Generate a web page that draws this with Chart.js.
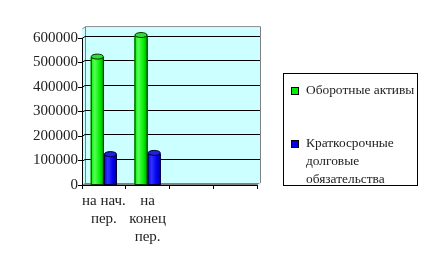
<!DOCTYPE html>
<html>
<head>
<meta charset="utf-8">
<script src="https://cdn.jsdelivr.net/npm/chart.js@4.4.1/dist/chart.umd.min.js"></script>
<style>
  body { margin: 0; background: #fff; }
  #wrap { position: relative; width: 429px; height: 265px; }
  #legend {
    position: absolute; left: 283px; top: 73px; width: 135px; height: 113px;
    border: 1px solid #000; box-sizing: border-box;
    font-family: "Liberation Serif", serif; font-size: 13.4px; color: #222;
  }
  .item { position: absolute; left: 7px; line-height: 18px; white-space: nowrap; }
  .box { position: absolute; left: 0; top: 6px; width: 6px; height: 6px; border: 1px solid #000; }
  .txt { margin-left: 15px; }
</style>
</head>
<body>
<div id="wrap">
  <canvas id="c" width="429" height="265"></canvas>
  <div id="legend"></div>
</div>
<script>
const categories = [['на нач.', 'пер.'], ['на', 'конец', 'пер.'], '', ''];
const seriesNames = ['Оборотные активы', 'Краткосрочные долговые обязательства'];
const currentAssets = [520000, 608000, null, null];
const shortTermDebt = [122000, 127000, null, null];
const yTicks = [0, 100000, 200000, 300000, 400000, 500000, 600000];

const colors = [
  { light: '#55ff55', mid: '#00ee00', dark: '#009900', top: '#33dd33' },
  { light: '#3030ff', mid: '#0000ee', dark: '#000090', top: '#2020dd' }
];

// legend in html
const legend = document.getElementById('legend');
const legendLines = [['Оборотные активы'], ['Краткосрочные', 'долговые', 'обязательства']];
const legendTops = [7, 60];
legendLines.forEach((lines, i) => {
  const d = document.createElement('div');
  d.className = 'item';
  d.style.top = legendTops[i] + 'px';
  d.innerHTML = '<span class="box" style="background:' + colors[i].mid + '"></span><div class="txt">' + lines.join('<br>') + '</div>';
  legend.appendChild(d);
});

const dx = 3, dy = -2;

const wallPlugin = {
  id: 'wall',
  beforeDraw(chart) {
    const ctx = chart.ctx;
    const a = chart.chartArea;
    const y = chart.scales.y;
    const topY = y.getPixelForValue(640000);
    ctx.save();
    // back wall
    ctx.fillStyle = '#ccffff';
    ctx.fillRect(a.left, topY, a.right - a.left + dx, a.bottom - topY);
    ctx.strokeStyle = '#808080';
    ctx.lineWidth = 1;
    ctx.beginPath();
    ctx.moveTo(a.left + dx + 0.5, a.bottom + dy);
    ctx.lineTo(a.left + dx + 0.5, topY + dy + 0.5);
    ctx.lineTo(a.right + dx + 0.5, topY + dy + 0.5);
    ctx.lineTo(a.right + dx + 0.5, a.bottom + dy);
    ctx.moveTo(a.left + 0.5, topY + 0.5);
    ctx.lineTo(a.left + dx + 0.5, topY + dy + 0.5);
    ctx.stroke();
    // gridlines
    ctx.strokeStyle = '#000';
    yTicks.slice(1).forEach(v => {
      const py = Math.round(y.getPixelForValue(v)) + 0.5;
      ctx.beginPath();
      ctx.moveTo(a.left, py);
      ctx.lineTo(a.left + dx, py + dy);
      ctx.lineTo(a.right + dx, py + dy);
      ctx.stroke();
    });
    // floor
    ctx.fillStyle = '#808080';
    ctx.beginPath();
    ctx.moveTo(a.left, a.bottom);
    ctx.lineTo(a.right, a.bottom);
    ctx.lineTo(a.right + dx, a.bottom + dy);
    ctx.lineTo(a.left + dx, a.bottom + dy);
    ctx.closePath();
    ctx.fill();
    ctx.restore();
  },
  afterDatasetsDraw(chart) {
    const ctx = chart.ctx;
    chart.data.datasets.forEach((ds, di) => {
      const meta = chart.getDatasetMeta(di);
      const c = colors[di];
      meta.data.forEach((bar, i) => {
        if (ds.data[i] == null) return;
        const w = bar.width, l = bar.x - w / 2, r = bar.x + w / 2;
        const t = bar.y, b = bar.base;
        const g = ctx.createLinearGradient(l, 0, r, 0);
        g.addColorStop(0, c.mid);
        g.addColorStop(0.3, c.light);
        g.addColorStop(0.7, c.mid);
        g.addColorStop(1, c.dark);
        ctx.save();
        ctx.fillStyle = g;
        ctx.fillRect(l, t, w, b - t);
        ctx.strokeStyle = di === 1 ? '#000033' : '#003300';
        ctx.lineWidth = 1;
        ctx.strokeRect(l + 0.5, t, w - 1, b - t);
        // cylinder top
        ctx.beginPath();
        ctx.ellipse(bar.x, t - 1, w / 2 - 0.5, 2.5, 0, 0, Math.PI * 2);
        ctx.fillStyle = c.top;
        ctx.fill();
        ctx.stroke();
        ctx.restore();
      });
    });
  }
};

new Chart(document.getElementById('c').getContext('2d'), {
  type: 'bar',
  data: {
    labels: categories,
    datasets: [
      { label: seriesNames[0], data: currentAssets, backgroundColor: colors[0].mid },
      { label: seriesNames[1], data: shortTermDebt, backgroundColor: colors[1].mid }
    ]
  },
  options: {
    responsive: false,
    animation: false,
    layout: { padding: { left: 0, top: 38, right: 172, bottom: 0 } },
    datasets: { bar: { categoryPercentage: 0.6, barPercentage: 1.0 } },
    plugins: { legend: { display: false }, tooltip: { enabled: false } },
    scales: {
      x: {
        afterFit: s => { s.height = 80; },
        grid: { drawOnChartArea: false, drawTicks: true, tickLength: 4, offset: true, color: '#000' },
        border: { color: '#000' },
        ticks: {
          color: '#222', padding: 3, maxRotation: 0, autoSkip: false,
          font: { family: 'Liberation Serif', size: 15, lineHeight: 1.2 }
        }
      },
      y: {
        min: 0, max: 600000,
        afterFit: s => { s.width = 82; },
        afterBuildTicks: s => { s.ticks = yTicks.map(v => ({ value: v })); },
        grid: { drawOnChartArea: false, drawTicks: true, tickLength: 4, color: '#000' },
        border: { color: '#000' },
        ticks: {
          color: '#222', padding: 0,
          callback: v => String(v),
          font: { family: 'Liberation Serif', size: 15 }
        }
      }
    }
  },
  plugins: [wallPlugin]
});
</script>
</body>
</html>
